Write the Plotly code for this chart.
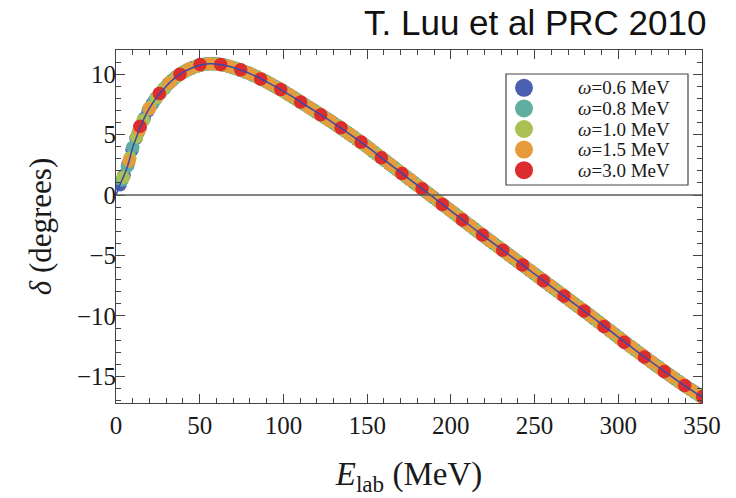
import plotly.graph_objects as go

# ---------------- data ----------------
# omega = 3.0 MeV (red)
E_w30 = [14.3, 25.9, 38.2, 50.2, 62.5, 74.5, 86.4, 98.4, 110.3, 122.3, 134.4, 146.4, 158.5,
         170.8, 182.8, 194.9, 206.9, 218.9, 231.0, 242.9, 255.3, 267.6, 279.6, 291.5, 303.5,
         315.6, 327.5, 339.7, 350.4]
d_w30 = [5.70, 8.40, 10.00, 10.80, 10.80, 10.36, 9.61, 8.74, 7.69, 6.64, 5.56, 4.38, 3.08,
         1.79, 0.52, -0.77, -2.07, -3.31, -4.57, -5.79, -7.08, -8.35, -9.59, -10.88, -12.17,
         -13.39, -14.60, -15.76, -16.67]

# omega = 1.5 MeV (orange)
E_w15 = [7.8, 13.8, 19.8, 25.8, 31.8, 37.8, 43.8, 49.8, 55.8, 61.8, 67.8, 73.8, 79.8, 85.8,
         91.8, 97.8, 103.8, 109.8, 115.8, 121.8, 127.8, 133.8, 139.8, 145.8, 151.8, 157.8,
         163.8, 169.8, 175.8, 181.8, 187.8, 193.8, 199.8, 205.8, 211.8, 217.8, 223.8, 229.8,
         235.8, 241.8, 247.8, 253.8, 259.8, 265.8, 271.8, 277.8, 283.8, 289.8, 295.8, 301.8,
         307.8, 313.8, 319.8, 325.8, 331.8, 337.8, 343.8, 349.8]
d_w15 = [2.81, 5.38, 7.15, 8.36, 9.27, 9.96, 10.42, 10.73, 10.87, 10.81, 10.64, 10.36, 10.06,
         9.66, 9.23, 8.77, 8.27, 7.74, 7.21, 6.68, 6.15, 5.59, 5.02, 4.42, 3.81, 3.17, 2.53,
         1.89, 1.26, 0.63, -0.01, -0.64, -1.28, -1.92, -2.56, -3.20, -3.82, -4.44, -5.06,
         -5.68, -6.30, -6.93, -7.55, -8.17, -8.79, -9.40, -10.03, -10.66, -11.30, -11.94,
         -12.57, -13.19, -13.81, -14.41, -15.00, -15.59, -16.14, -16.68]

# omega = 1.0 MeV (yellow-green)
E_w10 = [4.3, 8.3, 12.3, 16.3, 20.3, 24.3, 28.3, 32.3, 36.3, 40.3, 44.3, 48.3, 52.3, 56.3,
         60.3, 64.3, 68.3, 72.3, 76.3, 80.3, 84.3, 88.3, 92.3, 96.3, 100.3, 104.3, 108.3,
         112.3, 116.3, 120.3, 124.3, 128.3, 132.3, 136.3, 140.3, 144.3, 148.3, 152.3, 156.3,
         160.3, 164.3, 168.3, 172.3, 176.3, 180.3, 184.3, 188.3, 192.3, 196.3, 200.3, 204.3,
         208.3, 212.3, 216.3, 220.3, 224.3, 228.3, 232.3, 236.3, 240.3, 244.3, 248.3, 252.3,
         256.3, 260.3, 264.3, 268.3, 272.3, 276.3, 280.3, 284.3, 288.3, 292.3, 296.3, 300.3,
         304.3, 308.3, 312.3, 316.3, 320.3, 324.3, 328.3, 332.3, 336.3, 340.3, 344.3, 348.3]
d_w10 = [1.47, 3.06, 4.81, 6.19, 7.26, 8.07, 8.75, 9.34, 9.81, 10.17, 10.45, 10.66, 10.81,
         10.87, 10.84, 10.75, 10.62, 10.44, 10.24, 10.03, 9.76, 9.49, 9.19, 8.88, 8.57, 8.22,
         7.87, 7.52, 7.17, 6.81, 6.46, 6.10, 5.73, 5.35, 4.97, 4.57, 4.17, 3.75, 3.33, 2.90,
         2.47, 2.05, 1.63, 1.21, 0.79, 0.36, -0.06, -0.48, -0.91, -1.33, -1.76, -2.19, -2.61,
         -3.03, -3.46, -3.87, -4.29, -4.70, -5.11, -5.52, -5.94, -6.35, -6.77, -7.18, -7.60,
         -8.01, -8.42, -8.84, -9.25, -9.66, -10.08, -10.50, -10.93, -11.35, -11.78, -12.20,
         -12.62, -13.04, -13.45, -13.86, -14.26, -14.66, -15.05, -15.44, -15.83, -16.19, -16.55]

# omega = 0.8 MeV (teal)
E_w08 = [3.6, 6.8, 10.0, 13.2, 16.4, 19.6, 22.8, 26.0, 29.2, 32.4, 35.6, 38.8, 42.0, 45.2,
         48.4, 51.6, 54.8, 58.0, 61.2, 64.4, 67.6, 70.8, 74.0, 77.2, 80.4, 83.6, 86.8, 90.0,
         93.2, 96.4, 99.6, 102.8, 106.0, 109.2, 112.4, 115.6, 118.8, 122.0, 125.2, 128.4,
         131.6, 134.8, 138.0, 141.2, 144.4, 147.6, 150.8, 154.0, 157.2, 160.4, 163.6, 166.8,
         170.0, 173.2, 176.4, 179.6, 182.8, 186.0, 189.2, 192.4, 195.6, 198.8, 202.0, 205.2,
         208.4, 211.6, 214.8, 218.0, 221.2, 224.4, 227.6, 230.8, 234.0, 237.2, 240.4, 243.6,
         246.8, 250.0, 253.2, 256.4, 259.6, 262.8, 266.0, 269.2, 272.4, 275.6, 278.8, 282.0,
         285.2, 288.4, 291.6, 294.8, 298.0, 301.2, 304.4, 307.6, 310.8, 314.0, 317.2, 320.4,
         323.6, 326.8, 330.0, 333.2, 336.4, 339.6, 342.8, 346.0, 349.2]
d_w08 = [1.24, 2.38, 3.95, 5.15, 6.22, 7.10, 7.79, 8.38, 8.88, 9.35, 9.73, 10.05, 10.30,
         10.50, 10.67, 10.79, 10.86, 10.87, 10.83, 10.75, 10.64, 10.51, 10.35, 10.19, 10.02,
         9.80, 9.59, 9.37, 9.12, 8.88, 8.63, 8.35, 8.07, 7.79, 7.51, 7.23, 6.95, 6.66, 6.38,
         6.09, 5.80, 5.49, 5.19, 4.88, 4.56, 4.24, 3.91, 3.57, 3.23, 2.89, 2.55, 2.21, 1.87,
         1.53, 1.20, 0.86, 0.52, 0.18, -0.16, -0.49, -0.83, -1.17, -1.51, -1.86, -2.20, -2.54,
         -2.88, -3.22, -3.55, -3.88, -4.21, -4.54, -4.87, -5.20, -5.53, -5.86, -6.20, -6.53,
         -6.86, -7.20, -7.53, -7.86, -8.19, -8.52, -8.85, -9.18, -9.51, -9.84, -10.18, -10.51,
         -10.85, -11.19, -11.54, -11.88, -12.21, -12.55, -12.88, -13.21, -13.54, -13.87,
         -14.19, -14.51, -14.83, -15.14, -15.45, -15.76, -16.05, -16.34, -16.63]

# omega = 0.6 MeV (blue)
E_w06 = [2.4, 4.8, 7.2, 9.6, 12.0, 14.4, 16.8, 19.2, 21.6, 24.0, 26.4, 28.8, 31.2, 33.6, 36.0,
         38.4, 40.8, 43.2, 45.6, 48.0, 50.4, 52.8, 55.2, 57.6, 60.0, 62.4, 64.8, 67.2, 69.6,
         72.0, 74.4, 76.8, 79.2, 81.6, 84.0, 86.4, 88.8, 91.2, 93.6, 96.0, 98.4, 100.8, 103.2,
         105.6, 108.0, 110.4, 112.8, 115.2, 117.6, 120.0, 122.4, 124.8, 127.2, 129.6, 132.0,
         134.4, 136.8, 139.2, 141.6, 144.0, 146.4, 148.8, 151.2, 153.6, 156.0, 158.4, 160.8,
         163.2, 165.6, 168.0, 170.4, 172.8, 175.2, 177.6, 180.0, 182.4, 184.8, 187.2, 189.6,
         192.0, 194.4, 196.8, 199.2, 201.6, 204.0, 206.4, 208.8, 211.2, 213.6, 216.0, 218.4,
         220.8, 223.2, 225.6, 228.0, 230.4, 232.8, 235.2, 237.6, 240.0, 242.4, 244.8, 247.2,
         249.6, 252.0, 254.4, 256.8, 259.2, 261.6, 264.0, 266.4, 268.8, 271.2, 273.6, 276.0,
         278.4, 280.8, 283.2, 285.6, 288.0, 290.4, 292.8, 295.2, 297.6, 300.0, 302.4, 304.8,
         307.2, 309.6, 312.0, 314.4, 316.8, 319.2, 321.6, 324.0, 326.4, 328.8, 331.2, 333.6,
         336.0, 338.4, 340.8, 343.2, 345.6, 348.0]
d_w06 = [0.86, 1.63, 2.55, 3.74, 4.70, 5.58, 6.34, 6.98, 7.54, 8.02, 8.44, 8.82, 9.18, 9.50,
         9.78, 10.01, 10.21, 10.38, 10.53, 10.65, 10.75, 10.82, 10.86, 10.87, 10.85, 10.80,
         10.74, 10.66, 10.56, 10.45, 10.33, 10.21, 10.09, 9.94, 9.78, 9.61, 9.45, 9.28, 9.09,
         8.91, 8.72, 8.53, 8.32, 8.11, 7.90, 7.68, 7.47, 7.26, 7.05, 6.84, 6.63, 6.41, 6.20,
         5.99, 5.76, 5.53, 5.30, 5.08, 4.84, 4.60, 4.36, 4.12, 3.87, 3.61, 3.36, 3.10, 2.85,
         2.59, 2.34, 2.08, 1.83, 1.58, 1.32, 1.07, 0.82, 0.57, 0.31, 0.06, -0.20, -0.45,
         -0.71, -0.96, -1.22, -1.47, -1.73, -1.98, -2.24, -2.50, -2.75, -3.01, -3.26, -3.51,
         -3.76, -4.01, -4.25, -4.50, -4.75, -4.99, -5.24, -5.49, -5.74, -5.99, -6.24, -6.49,
         -6.74, -6.99, -7.24, -7.49, -7.73, -7.98, -8.23, -8.48, -8.72, -8.97, -9.22, -9.47,
         -9.71, -9.97, -10.22, -10.47, -10.72, -10.98, -11.24, -11.49, -11.75, -12.00, -12.25,
         -12.51, -12.76, -13.01, -13.25, -13.50, -13.75, -13.99, -14.23, -14.47, -14.71,
         -14.95, -15.18, -15.41, -15.65, -15.87, -16.09, -16.30, -16.52]

# continuum reference curve (thin blue line)
E_curve = [0, 2, 4, 6, 8, 10, 12, 14, 16, 18, 20, 22, 24, 26, 28, 30, 32, 34, 36, 38, 40, 44,
           48, 52, 56, 60, 64, 68, 70, 80, 90, 100, 110, 120, 130, 140, 150, 160, 170, 180,
           190, 200, 210, 220, 230, 240, 250, 260, 270, 280, 290, 300, 310, 320, 330, 340, 350]
d_curve = [0.0, 0.73, 1.37, 2.03, 2.90, 3.95, 4.70, 5.45, 6.10, 6.70, 7.20, 7.63, 8.02, 8.38,
           8.70, 9.00, 9.30, 9.55, 9.78, 9.98, 10.15, 10.43, 10.65, 10.80, 10.87, 10.85,
           10.76, 10.63, 10.55, 10.05, 9.37, 8.60, 7.72, 6.84, 5.95, 5.00, 4.00, 2.93, 1.87,
           0.82, -0.24, -1.30, -2.37, -3.43, -4.46, -5.49, -6.53, -7.57, -8.60, -9.63,
           -10.68, -11.75, -12.80, -13.83, -14.83, -15.80, -16.70]

series_names = ["\u03c9=0.6 MeV", "\u03c9=0.8 MeV", "\u03c9=1.0 MeV", "\u03c9=1.5 MeV", "\u03c9=3.0 MeV"]
series_E = [E_w06, E_w08, E_w10, E_w15, E_w30]
series_d = [d_w06, d_w08, d_w10, d_w15, d_w30]
series_colors = ["#4a5fb0", "#5fae9f", "#abc052", "#e89b3b", "#dc2c2e"]

x_ticks = [0, 50, 100, 150, 200, 250, 300, 350]
y_ticks = [-15, -10, -5, 0, 5, 10]

# ---------------- figure ----------------
W, H = 736, 498
ML, MR, MT, MB = 116, 34, 50, 95
PW, PH = W - ML - MR, H - MT - MB

def px_x(p):  # pixel -> paper x
    return (p - ML) / PW

def px_y(p):  # pixel -> paper y
    return (H - MB - p) / PH

fig = go.Figure()
for name, ex, dy, col in zip(series_names, series_E, series_d, series_colors):
    fig.add_trace(go.Scatter(x=ex, y=dy, mode="markers", name=name,
                             marker=dict(size=13.5, color=col, line=dict(width=0)),
                             showlegend=False))

fig.add_trace(go.Scatter(x=E_curve, y=d_curve, mode="lines",
                         line=dict(color="#3a4aa8", width=1.5, shape="spline"),
                         showlegend=False, hoverinfo="skip"))

serif = "Liberation Serif"
axis_common = dict(
    showline=True, linecolor="#444444", linewidth=1, mirror="allticks",
    ticks="inside", ticklen=9, tickwidth=1, tickcolor="#444444",
    showgrid=False, zeroline=False,
    tickfont=dict(family=serif, size=25, color="#1a1a1a"),
)

fig.update_xaxes(range=[0, 350], tickmode="array", tickvals=x_ticks,
                 minor=dict(ticks="inside", ticklen=5, tickcolor="#444444", dtick=10, tick0=0, showgrid=False),
                 title=dict(text="<i>E</i><sub>lab</sub> (MeV)", font=dict(family=serif, size=33, color="#1a1a1a"), standoff=23),
                 ticklabelstandoff=0, **axis_common)
fig.update_yaxes(range=[-17.2, 12.0], tickmode="array", tickvals=y_ticks,
                 minor=dict(ticks="inside", ticklen=5, tickcolor="#444444", dtick=1, tick0=0, showgrid=False),
                 title=dict(text="<i>\u03b4</i> (degrees)", font=dict(family=serif, size=31, color="#1a1a1a"), standoff=16),
                 ticklabelstandoff=-6, **axis_common)

# zero line
fig.add_shape(type="line", xref="paper", yref="y", x0=0, x1=1, y0=0, y1=0,
              line=dict(color="#5a5a5a", width=1.5), layer="above")

# title text
fig.add_annotation(text="T. Luu et al PRC 2010", xref="paper", yref="paper",
                   x=px_x(708), y=1.016, xanchor="right", yanchor="bottom", showarrow=False,
                   font=dict(family="Liberation Sans", size=35, color="#111111"))

# legend box (drawn by hand to match the reference's spacing)
LX0, LX1, LY0, LY1 = 506, 688, 74, 185
fig.add_shape(type="rect", xref="paper", yref="paper",
              x0=px_x(LX0), x1=px_x(LX1), y0=px_y(LY1), y1=px_y(LY0),
              line=dict(color="#444444", width=1.2), fillcolor="white", layer="above")
row_y = [87.8, 108.4, 129.0, 149.6, 170.2]
for name, col, ry in zip(series_names, series_colors, row_y):
    fig.add_shape(type="circle", xref="paper", yref="paper",
                  xsizemode="pixel", ysizemode="pixel",
                  xanchor=px_x(524), yanchor=px_y(ry),
                  x0=-9, x1=9, y0=-9, y1=9,
                  line=dict(width=0), fillcolor=col, layer="above")
    fig.add_annotation(text="<i>\u03c9</i>" + name[1:], xref="paper", yref="paper",
                       x=px_x(576), y=px_y(ry), xanchor="left", yanchor="middle",
                       showarrow=False,
                       font=dict(family=serif, size=19, color="#1a1a1a"))

fig.update_layout(
    width=W, height=H,
    margin=dict(l=ML, r=MR, t=MT, b=MB),
    paper_bgcolor="white", plot_bgcolor="white",
    font=dict(family=serif, color="#1a1a1a"),
    showlegend=False,
)

fig.write_html("out.html")
